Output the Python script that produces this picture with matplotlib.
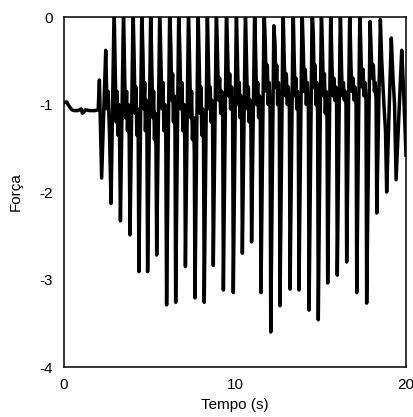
import matplotlib.pyplot as plt

plt.rcParams['font.family'] = ['Liberation Sans', 'DejaVu Sans']
plt.rcParams['axes.unicode_minus'] = False

# resting level before the oscillation starts
rest_t = [0.00, 0.15, 0.30, 0.45, 0.60, 0.80, 1.00, 1.08, 1.15, 1.25, 1.50, 1.80, 2.00, 2.07]
rest_f = [-0.98, -0.97, -1.02, -1.06, -1.07, -1.07, -1.05, -1.10, -1.09, -1.06, -1.07, -1.07, -1.06, -0.72]

# oscillation, one row per cycle: trough, peak, then the ripple on the way down
osc_t = [
    2.20, 2.44, 2.52, 2.58, 2.66,
    2.75, 2.93, 3.00, 3.05, 3.10, 3.15, 3.20, 3.25,
    3.30, 3.48, 3.55, 3.60, 3.66, 3.71, 3.76, 3.81,
    3.86, 4.04, 4.11, 4.16, 4.21, 4.26, 4.30, 4.34,
    4.38, 4.55, 4.62, 4.67, 4.72, 4.76, 4.81, 4.85,
    4.89, 5.07, 5.14, 5.19, 5.24, 5.29, 5.33, 5.38,
    5.42, 5.60, 5.67, 5.73, 5.79, 5.84, 5.90, 5.95,
    6.00, 6.18, 6.25, 6.30, 6.35, 6.40, 6.44, 6.49,
    6.53, 6.71, 6.78, 6.84, 6.90, 6.95, 7.01, 7.06,
    7.10, 7.28, 7.35, 7.41, 7.46, 7.51, 7.57, 7.62,
    7.66, 7.84, 7.91, 7.96, 8.01, 8.06, 8.11, 8.16,
    8.20, 8.38, 8.45, 8.50, 8.55, 8.60, 8.64, 8.69,
    8.73, 8.91, 8.98, 9.04, 9.10, 9.16, 9.22, 9.28,
    9.32, 9.50, 9.57, 9.63, 9.69, 9.74, 9.80, 9.86,
    9.90, 10.08, 10.15, 10.20, 10.25, 10.30, 10.34, 10.39,
    10.43, 10.61, 10.68, 10.73, 10.78, 10.83, 10.88, 10.93,
    10.97, 11.15, 11.22, 11.27, 11.33, 11.38, 11.43, 11.48,
    11.52, 11.70, 11.77, 11.83, 11.89, 11.94, 12.00, 12.05,
    12.09, 12.27, 12.34, 12.39, 12.44, 12.49, 12.54, 12.59,
    12.63, 12.81, 12.88, 12.94, 13.00, 13.06, 13.12, 13.18,
    13.22, 13.40, 13.47, 13.52, 13.57, 13.61, 13.65, 13.70,
    13.74, 13.92, 13.99, 14.05, 14.11, 14.17, 14.23, 14.29,
    14.33, 14.51, 14.58, 14.63, 14.68, 14.73, 14.78, 14.83,
    14.87, 15.05, 15.12, 15.17, 15.23, 15.28, 15.33, 15.38,
    15.42, 15.60, 15.67, 15.73, 15.78, 15.83, 15.89, 15.94,
    15.98, 16.16, 16.23, 16.28, 16.34, 16.39, 16.44, 16.49,
    16.53, 16.71, 16.78, 16.84, 16.90, 16.96, 17.02, 17.08,
    17.12, 17.30, 17.37, 17.43, 17.49, 17.54, 17.60, 17.66,
    17.70, 17.90, 17.97, 18.03, 18.09, 18.15, 18.20, 18.25,
    18.29, 18.50, 18.58, 18.70, 18.80,
    18.87, 19.14, 19.24, 19.33,
    19.42, 19.75, 19.85, 20.00,
]
osc_f = [
    -1.84, -0.38, -1.05, -0.85, -1.33,
    -2.13, 0.10, -0.65, -1.20, -0.85, -1.35, -1.00, -1.40,
    -2.33, 0.10, -0.70, -1.15, -0.85, -1.30, -1.00, -1.35,
    -2.49, 0.10, -0.55, -1.10, -0.80, -1.35, -1.05, -1.40,
    -2.91, 0.10, -0.45, -1.05, -0.75, -1.30, -0.95, -1.35,
    -2.91, 0.10, -0.60, -1.15, -0.85, -1.40, -1.10, -1.50,
    -2.72, 0.10, -0.50, -1.05, -0.75, -1.30, -1.00, -1.35,
    -3.29, 0.10, -0.35, -0.95, -0.65, -1.20, -0.90, -1.30,
    -3.26, 0.10, -0.45, -1.05, -0.75, -1.30, -1.00, -1.40,
    -2.85, 0.10, -0.60, -1.15, -0.85, -1.40, -1.15, -1.55,
    -3.21, 0.10, -0.55, -1.10, -0.80, -1.35, -1.05, -1.45,
    -3.26, 0.10, -0.60, -1.05, -0.80, -1.20, -0.95, -1.25,
    -2.84, 0.10, -0.45, -0.95, -0.70, -1.10, -0.85, -1.15,
    -3.12, 0.10, -0.40, -0.90, -0.65, -1.05, -0.80, -1.10,
    -3.15, 0.10, -0.55, -1.00, -0.75, -1.15, -0.90, -1.20,
    -2.70, 0.10, -0.60, -1.05, -0.80, -1.20, -0.95, -1.25,
    -2.57, 0.10, -0.55, -1.00, -0.75, -1.15, -0.90, -1.20,
    -3.15, 0.10, -0.30, -0.85, -0.55, -1.00, -0.75, -1.05,
    -3.60, -0.10, -0.30, -0.80, -0.55, -1.00, -0.75, -1.05,
    -3.30, 0.10, -0.50, -0.90, -0.65, -1.00, -0.80, -1.05,
    -3.11, 0.10, -0.55, -0.90, -0.70, -1.05, -0.85, -1.10,
    -3.12, 0.10, -0.35, -0.85, -0.60, -1.00, -0.75, -1.05,
    -3.35, 0.10, -0.20, -0.80, -0.55, -1.00, -0.75, -1.10,
    -3.46, 0.10, -0.40, -0.90, -0.65, -1.10, -0.85, -1.15,
    -3.04, 0.10, -0.55, -0.90, -0.70, -0.95, -0.80, -1.00,
    -2.95, 0.10, -0.60, -0.90, -0.75, -0.95, -0.85, -1.00,
    -2.80, 0.10, -0.55, -0.85, -0.70, -0.95, -0.80, -1.00,
    -3.15, 0.10, -0.45, -0.80, -0.60, -0.90, -0.75, -0.95,
    -3.27, -0.05, -0.43, -0.70, -0.55, -0.85, -0.75, -0.95,
    -2.24, -0.03, -0.50, -0.97, -1.30,
    -2.00, -0.24, -0.70, -1.00,
    -1.86, -0.38, -0.80, -1.58,
]

fig = plt.figure(figsize=(4.14, 4.17), dpi=100)
ax = fig.add_axes([0.1546, 0.1199, 0.8261, 0.8393])

ax.plot(rest_t + osc_t, rest_f + osc_f, color='black', lw=2.5)

ax.set_xlim(0, 20)
ax.set_ylim(-4, 0)
ax.set_xticks([0, 10, 20])
ax.set_yticks([0, -1, -2, -3, -4])
ax.tick_params(length=0, labelsize=11, pad=8)
ax.set_xlabel('Tempo (s)', fontsize=11, labelpad=4)
ax.set_ylabel('Força', fontsize=11, labelpad=12)
for sp in ax.spines.values():
    sp.set_linewidth(1.1)

fig.savefig('out.png', dpi=100)
